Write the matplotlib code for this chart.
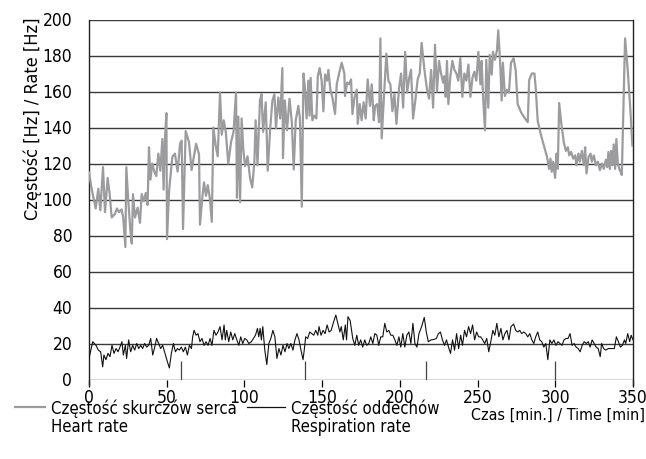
import matplotlib
matplotlib.use("Agg")
import matplotlib.pyplot as plt
from matplotlib import font_manager
from matplotlib.lines import Line2D

# heart rate (minutes, Hz)
hr_time = [0, 1.7, 4.3, 6, 7.3, 9, 10.3, 12, 13.3, 14.6, 16.7, 18, 19.3, 21, 22, 23.4, 24, 25.3, 26.6, 27.5,
           28.3, 29.6, 31.3, 32.8, 33.9, 35.2, 36.5, 37.7, 38.6, 39.5, 40.7, 42, 43.3, 44.6, 45.9, 47.2, 48, 48.9,
           49.8, 50.2, 51.5, 53.6, 55.3, 57, 58.6, 59.6, 60.5, 62.2, 64.3, 66,
           68.9, 70.8, 71.4, 72.9, 74, 75.3, 76.4, 77.7, 79, 80, 81.5, 82.8, 84.3, 85.4, 86.7, 88, 89.6, 91.4,
           93, 94.6, 95.2, 96.1, 97.2, 98.2, 99.3, 100.4, 102, 103.6, 105, 106.4, 107.2, 108.4, 110, 111, 112,
           113.7, 115, 116.5, 118, 119.3, 120.3, 121.8, 123, 124.4, 124.8, 126, 127.4, 129, 130.5, 131.7, 133,
           134.7, 135.7, 136.9, 138,
           139, 140, 141.1, 141.9, 142.6, 143.7, 145, 146.3, 147.2, 148.4, 149.7, 150.8, 151.9, 153.2, 154,
           155.3, 156.6, 158.3, 159.4, 160.9, 162.6, 164.3, 164.7, 166.1, 167.3, 168.6, 169.5, 170.8, 172.3,
           172.9, 174.2, 175.4, 176.7, 178, 179.3, 180.8, 181.9, 183.2, 184.1, 185.4, 186.6, 187.5, 188.3,
           189.2, 190.5, 191.3, 192.6, 193.9, 195.2, 196.5, 197.8, 199.5, 200.8, 202.1, 203.4, 204.7, 206,
           207.2, 208.5, 209.8,
           211.5, 212.8, 214, 215.8, 217.5, 218.8, 220.1, 221.4, 222.6, 223.9, 225.2, 226.5, 227.8, 228.6,
           229.5, 230.3, 231.2, 232.5, 233.8, 235.1, 236.4, 237.6, 238.9, 240.2, 241.5, 242.8, 244.1, 245.4,
           246.7, 247.9, 249.2, 250.5, 251.8, 252.6, 253.5, 254.8, 255.6, 256.9, 257.8, 259.1, 259.9, 261.2,
           262.5, 263.3, 264.6, 265.5, 266.3, 267.6, 268.9, 270.2, 271.5, 273.2, 274.5, 275.8, 278, 280.5,
           282.3, 283.2, 284.9, 286.6, 287.4, 288.7, 290.9, 293, 294.7, 296, 296.9, 297.7, 298.6, 299.9, 300.8,
           301.6, 302.5, 303.8, 305.5, 306.8, 308.1, 309, 310.2, 311.5, 312.8, 313.6, 314.9, 315.8, 317.1,
           318.4, 319.2, 320.1, 321.4, 322.7, 323.5, 324.8, 326.1, 327.4, 328.7, 330, 331.2, 332.5, 333.4,
           334.2, 335.1, 335.9, 336.8, 337.6, 338.5, 339.3, 340.2, 341.5, 342.8, 344.9, 346.6, 348.3, 349.6]
hr_value = [115, 106, 95, 106, 94, 118, 93, 112, 103, 90, 92, 95, 93, 94.5, 90, 73.6, 118, 99, 83, 75.5,
            103, 90, 95.5, 87, 103, 99, 103.6, 97, 129, 111, 120, 115.5, 113, 125.5, 116, 133.6, 105.5, 134.5,
            148, 78, 104.5, 123.6, 125.5, 115.5, 131, 132.7, 83.6, 138, 132, 116.4,
            131, 125, 86, 101, 109.5, 102, 108, 101, 87.6, 140, 130, 124, 159.5, 136, 144, 137.6, 120, 132,
            137.6, 159.5, 101, 146, 98.5, 145, 127.6, 118.5, 124, 112, 106.7, 121, 144, 119, 155, 158.5, 137.6,
            154, 116, 138.5, 155, 158.5, 139.6, 156.7, 145, 173, 123, 155, 138.5, 156, 143, 116.7, 144,
            152, 145, 96, 170,
            161, 145, 166, 146.6, 167.6, 144, 146.6, 145, 168.5, 173, 166, 149, 169.4, 166, 172,
            161, 156.6, 147.5, 164, 170, 176, 170, 157.5, 165, 164, 166.7, 147.5, 156.6, 161,
            142, 153, 144, 154, 145, 166.7, 152, 164, 144, 152, 153, 143, 189.5, 134,
            148.4, 168.5, 181, 166, 164, 149, 158.5, 142, 162, 170, 151, 182, 159.4, 167.6,
            172, 145, 154,
            167, 170, 187, 172, 161, 156, 172, 151, 186, 160, 177, 170, 165, 168.5,
            157, 177, 153, 168.5, 177, 172, 170, 166, 178.5, 157, 170, 166, 175, 157,
            167.6, 171, 166, 182, 164, 177, 157.5, 138.4, 177.6, 151, 180.4, 169.4, 182, 177.6,
            183, 194, 175, 155, 176, 157.5, 161, 159.4, 176, 178.5, 172, 153, 148.4, 145,
            143, 166.4, 170, 170, 162, 143.6, 135.4, 129, 123.6, 117, 122.7, 115.4, 121, 112, 125.5,
            117, 153.6, 142.7, 131.7, 127, 129, 124.5, 126.4, 122.7, 124.5, 119, 125.5, 121, 127,
            119, 129, 114.5, 123.6, 125.5, 121, 124.5, 119, 121, 116.3, 120, 117, 122, 118,
            126.4, 117, 127, 119, 130.6, 117, 133.6, 120, 116.3, 113.6, 189.5, 172, 150, 130]

# respiration rate (minutes, 1/min)
resp_time = [0, 2.4, 4.5, 6, 7.5, 8.8, 9.6, 10.9, 12.2, 13.5, 14.8, 16.1, 17.4, 18.7, 19.9, 21.2, 22.1, 23.4,
             24.2, 25.5, 26.8, 28.1, 29.4, 30.7, 32, 33.3, 34.5, 35.8, 37.1, 38.4, 39.7, 41, 42.3, 43.5, 44.8,
             46.1, 47.4, 48.9, 50.4, 51.7, 53, 54.3, 55.6, 56.9, 58.1, 59.4, 60.7, 62, 63.3, 64.6, 65.9, 66.7,
             67.6, 68.9, 70.1, 71.4, 72.7, 74, 75.3, 76.6, 77.9, 79.1, 80.4, 81.7, 83, 84.3, 85.6, 86.9, 87.7,
             88.6, 89.9, 91.2, 92.5, 93.8, 95.1, 96.4, 97.6, 98.9, 100.2, 101.5, 102.8, 104.5, 105.8, 107.1,
             108.4, 109.2, 110.1, 110.9, 111.8, 113.1, 114.4, 115.7, 117, 118.3, 119.6, 120.9, 122.2, 123.5,
             124.8, 126.1, 127.4, 128.6, 129.9, 131.2, 132.5, 133.8, 135.1, 136.4, 137.7, 138.6, 139.4, 140.7,
             142, 143.3, 144.6, 145.9, 147.2, 148, 149.3, 150.6, 151.9, 153.2, 154.5, 155.8, 157.1, 158.8,
             160.1, 161.4, 162.3, 163.6, 164.9, 165.7, 166.6,
             168, 169.7, 171, 172.3, 173.5, 174.8, 176.1, 177.4, 178.7, 180, 181.3, 182.6, 183.9, 185.2,
             186.4, 187.7, 189, 190.3, 191.6, 192.9, 194.2, 195.5, 196.8, 198.1, 199.4, 200.6, 201.9, 203.2,
             204.5, 205.8, 207.1, 208.4, 209.7, 211, 212.3, 214, 215.7, 217, 218.3, 220.1, 221.8, 223.5,
             224.8, 226.1, 227.4, 228.7, 230, 231.3, 232.6, 233.9, 235.2, 236.5, 237.8, 239.1, 240.3, 241.6,
             242.9, 244.2, 245.5, 246.8, 248.1, 249.4, 250.7, 252, 253.3, 254.6, 255.9, 257.2, 258.5, 259.8,
             261.1, 262.4, 263.7, 265, 266.3, 267.6, 268.9, 270.2, 271.5, 273.2, 274.5, 275.8, 277.1, 278.4,
             279.7, 281, 282.3, 283.6, 284.9, 286.2, 287.4, 288.7, 290, 291.3, 292.6, 293.9, 295.2, 296.5,
             297.8, 299.1, 300.4, 301.7, 303, 304.3, 305.6, 306.9, 308.2, 309.5, 310.8, 312.1, 313.4, 314.7,
             316, 317.3, 318.6, 319.9, 321.2, 322.4, 323.7, 325, 326.3, 327.6, 328.9, 329.8, 331.1, 332.4,
             334.1, 336.3, 338, 339.3, 340.6, 341.9, 343.2, 344.5, 345.3, 346.6, 347.9, 348.8, 350]
resp_value = [11.7, 21, 19, 16.3, 15.4, 7, 13.6, 11, 14.5, 12.7, 19, 14.5, 17.2, 15.4, 18, 21, 13.6, 19,
              11.7, 22, 15.4, 19, 16.3, 20, 17.2, 19, 17.2, 20, 18, 19, 22.8, 13.6, 18, 22.8, 20,
              17.2, 19, 14.5, 10, 6.4, 14.5, 20, 15.4, 17.2, 16.3, 18, 15.4, 18, 13.6, 19, 17.2, 23.7,
              27.3, 24.6, 25.5, 21, 22.8, 19, 21, 19, 22.8, 19, 27.3, 24.6, 26.4, 29.4, 22, 30.3, 22,
              27.3, 21, 26.4, 22, 25.5, 22, 19, 23.7, 20, 22.8, 22, 20, 21, 22.8, 24.6,
              28.4, 23.7, 28.4, 22, 29.4, 16.3, 8.3, 20, 22.8, 27.3, 23.7, 11.7, 17.2, 13.6,
              19, 15.4, 20, 17.2, 20, 16.3, 22, 25.5, 22, 16.3, 11, 17.2, 23.7, 22.8,
              26.4, 25.5, 24.6, 27.3, 24.6, 29.4, 24.6, 27.3, 25.5, 30.3, 26.4, 27.3, 31.2, 35.8,
              31.2, 26.4, 29.4, 22, 30.3, 22, 34.9,
              32.8, 22.8, 19, 24.6, 19, 22, 18, 22, 19, 20, 23.7, 20, 25.5, 24.6,
              19, 23.7, 23.7, 31.2, 26.4, 27.3, 24.6, 24.6, 22, 19, 23.7, 18, 25.5, 18,
              24.6, 26.4, 20, 31.2, 20, 18, 25.5, 29.4, 34.5, 26.4, 21, 22, 22.2, 22.8,
              25.5, 26.4, 22, 19, 22, 18, 14.5, 22, 16.3, 25.5, 17.2, 24.6, 19, 27.3,
              23.7, 29.4, 25.5, 30.3, 22, 26.4, 23.7, 23.7, 22, 20, 22.8, 15.4, 21, 27.3,
              24.6, 31.2, 23.7, 28.4, 22, 25.5, 27.3, 22, 29.4, 30.8, 27.3, 26.4, 27.3, 25.5,
              26.4, 25.5, 23.7, 25.5, 22, 20, 23.7, 26.4, 22, 21, 18, 20, 11, 22,
              20, 22, 19, 21, 20, 19, 22, 22.8, 22.8, 25.5, 19, 20, 18, 17.2,
              15.4, 19, 21, 20, 21, 18, 22, 20, 18, 17.2, 12.7, 20, 17.2, 16.3,
              17.2, 17.2, 17.2, 23.7, 21, 18, 19, 22, 20, 25.5, 21, 24.6, 22]

# short event marks at the bottom of the chart
event_time = [59, 139, 217, 300]
event_height = 10.5

x_ticks = [0, 50, 100, 150, 200, 250, 300, 350]
y_ticks = [0, 20, 40, 60, 80, 100, 120, 140, 160, 180, 200]

HR_COLOR = "#9c9c9e"
RESP_COLOR = "#111111"
GRID_COLOR = "#3a3a3a"


def pick_narrow_font() -> tuple[str, str]:
    """Find an installed condensed face; the reference uses a narrow grotesque."""
    preferred = ["Liberation Sans Narrow", "DejaVu Sans", "Noto Sans", "Roboto", "Open Sans"]
    found = {}
    for entry in font_manager.fontManager.ttflist:
        if entry.style != "normal":
            continue
        if entry.stretch in ("condensed", "semi-condensed", "extra-condensed") or "Narrow" in entry.name:
            found.setdefault(entry.name, entry.stretch)
    for name in preferred:
        if name in found:
            return name, found[name]
    return "DejaVu Sans", "normal"


family, stretch = pick_narrow_font()
plt.rcParams["font.family"] = [family, "DejaVu Sans"]
plt.rcParams["font.stretch"] = stretch
scale = 1.0 if stretch != "normal" else 0.8
FS_TICK = 12.5 * scale
FS_TEXT = 12 * scale

fig = plt.figure(figsize=(6.46, 4.59), dpi=100)
ax = fig.add_axes([89 / 646, 1 - 379.5 / 459, 544 / 646, 360 / 459])

for y in y_ticks:
    ax.axhline(y, color=GRID_COLOR, linewidth=1.0, zorder=1)

ax.plot(hr_time, hr_value, color=HR_COLOR, linewidth=1.6, zorder=3)
ax.plot(resp_time, resp_value, color=RESP_COLOR, linewidth=0.8, zorder=4)
ax.vlines(event_time, 0, event_height, color="#444444", linewidth=0.9, zorder=2)

ax.set_xlim(0, 350)
ax.set_ylim(0, 200)
ax.set_xticks(x_ticks)
ax.set_yticks(y_ticks)
ax.tick_params(axis="x", direction="out", length=5, width=0.9, pad=1.5, labelsize=FS_TICK)
ax.tick_params(axis="y", length=0, pad=12, labelsize=FS_TICK)
for side in ["top", "bottom"]:
    ax.spines[side].set_visible(False)
for side in ["left", "right"]:
    ax.spines[side].set_linewidth(1.0)
    ax.spines[side].set_color("#222222")
    ax.spines[side].set_bounds(-3, 200)

fig.text(33 / 646, 1 - 17 / 459, "Częstość [Hz] / Rate [Hz]", rotation=90,
         ha="center", va="top", fontsize=13 * scale)
fig.text(645 / 646, 1 - 415 / 459, "Czas [min.] / Time [min]", ha="right", va="center",
         fontsize=11.5 * scale)

# legend below the chart, handle level with the first text line
legend_items = [
    (15, 45, 51, HR_COLOR, 1.6, "Częstość skurczów serca\nHeart rate"),
    (247, 285, 291, RESP_COLOR, 0.9, "Częstość oddechów\nRespiration rate"),
]
for x0, x1, xt, color, lw, label in legend_items:
    fig.add_artist(Line2D([x0 / 646, x1 / 646], [1 - 407 / 459, 1 - 407 / 459],
                          color=color, linewidth=lw, transform=fig.transFigure))
    fig.text(xt / 646, 1 - 400 / 459, label, ha="left", va="top", fontsize=FS_TEXT, linespacing=1.0)

fig.savefig("out.png", dpi=100)
